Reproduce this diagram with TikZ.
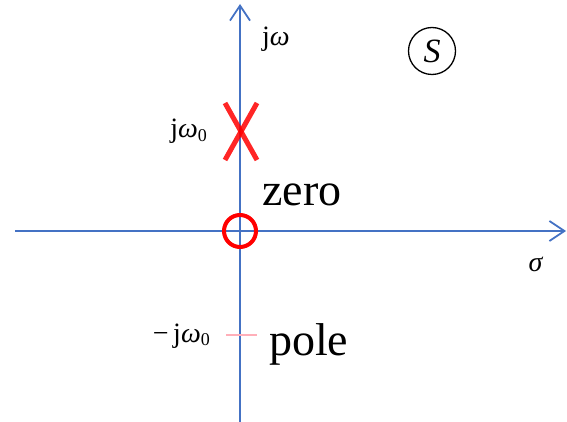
\documentclass[tikz,border=0pt]{standalone}
\usepackage{fontspec}
\setmainfont{Liberation Serif}
\usetikzlibrary{arrows.meta}
\definecolor{axisblue}{RGB}{68,114,196}
\definecolor{polepink}{RGB}{255,175,185}
\newcommand{\om}{\textit{ω}}
\begin{document}
\begin{tikzpicture}[x=1pt,y=-1pt,
  axis/.style={draw=axisblue,line width=1.8pt,-{Straight Barb[length=15pt,width=20pt,line width=1.8pt]}},
  lbl/.style={inner sep=0pt,font=\fontsize{28}{32}\selectfont},
  word/.style={inner sep=0pt,font=\fontsize{46}{52}\selectfont}]
\useasboundingbox (0,0) rectangle (567,422);
\coordinate (xl) at (15,231);
\coordinate (xr) at (566,231);
\coordinate (yb) at (240,422);
\coordinate (yt) at (240,4);
\draw[axis] (xl) -- (xr);
\draw[axis] (yb) -- (yt);
% pole marker (red X)
\coordinate (x1) at (225,103);
\coordinate (x2) at (257,160);
\coordinate (x3) at (257,103);
\coordinate (x4) at (225,160);
\draw[red,line width=5pt,opacity=0.85] (x1) -- (x2);
\draw[red,line width=5pt,opacity=0.85] (x3) -- (x4);
% zero marker
\node[draw=red,line width=4pt,circle,minimum size=32pt,inner sep=0pt] (zc) at (240,231) {};
% faint pole tick
\coordinate (p1) at (226,335);
\coordinate (p2) at (257,335);
\draw[polepink,line width=1.5pt] (p1) -- (p2);
% labels
\node[lbl,anchor=base west] (jw) at (262,46) {j\om};
\node[lbl,anchor=base east] (jw0) at (207,138) {j\om\raisebox{-0.25ex}{\fontsize{18}{20}\selectfont 0}};
\node[lbl,anchor=base east] (mjw0) at (210,342) {−\,j\om\raisebox{-0.25ex}{\fontsize{18}{20}\selectfont 0}};
\node[lbl,anchor=base] (sig) at (536,271) {\textit{σ}};
\node[word,anchor=base west] (zero) at (262,205) {zero};
\node[word,anchor=base west] (pole) at (269,355) {pole};
\node[draw,line width=1.3pt,circle,minimum size=47pt,inner sep=0pt,font=\fontsize{34}{38}\selectfont] (s) at (432,51) {\textit{S}};
\end{tikzpicture}
\end{document}
